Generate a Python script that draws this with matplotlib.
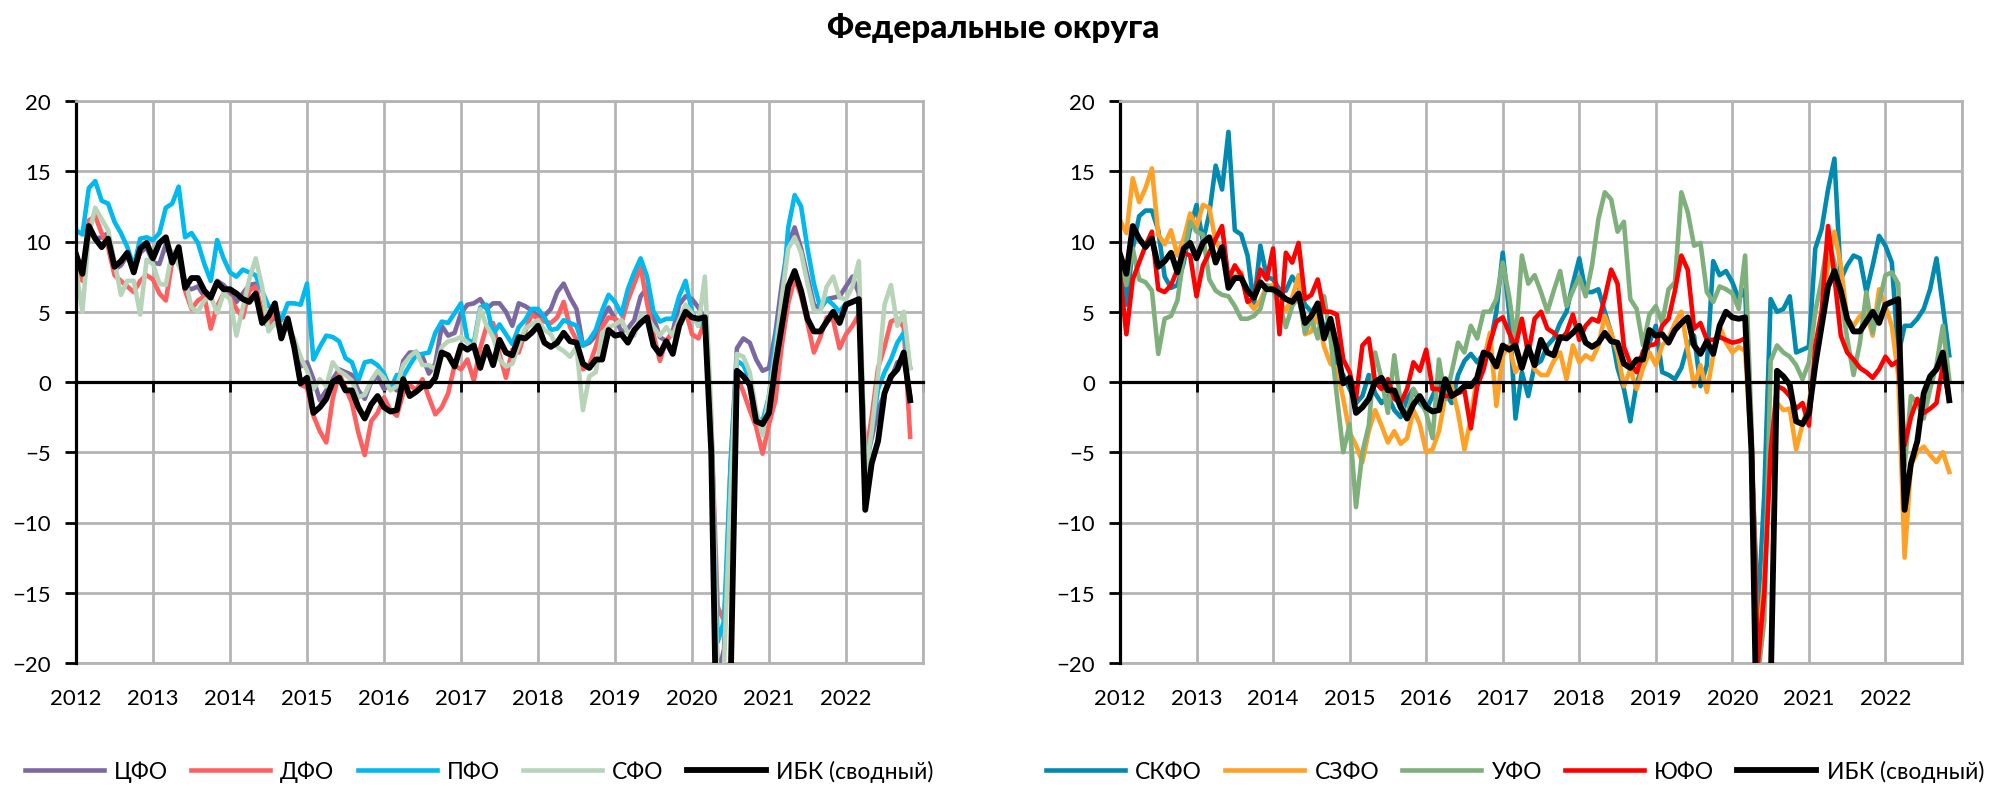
import matplotlib
matplotlib.use("Agg")
import matplotlib.pyplot as plt
import numpy as np

plt.rcParams["font.family"] = ["Lato", "DejaVu Sans"]

# monthly values, Jan 2012 .. Nov 2022
ibk = [
    9.1, 7.7, 11.1, 10.2, 9.6, 10.2, 8.2, 8.6, 9.2, 7.8, 9.5, 9.9,
    8.8, 9.9, 10.3, 8.5, 9.6, 6.7, 7.4, 7.4, 6.5, 6.0, 7.1, 6.6,
    6.6, 6.3, 5.9, 5.7, 6.3, 4.2, 4.7, 5.6, 3.1, 4.5, 2.5, -0.1,
    0.3, -2.2, -1.8, -1.2, 0.0, 0.3, -0.6, -0.6, -1.8, -2.6, -1.6, -1.0,
    -1.8, -2.1, -2.0, 0.2, -1.0, -0.7, -0.3, -0.3, 0.3, 2.1, 1.9, 1.1,
    2.6, 2.3, 2.6, 1.0, 2.5, 1.2, 3.0, 2.1, 1.9, 3.2, 3.1, 3.5,
    4.0, 2.8, 2.5, 2.8, 3.5, 2.9, 2.8, 1.3, 1.0, 1.6, 1.6, 3.7,
    3.3, 3.4, 2.8, 3.7, 4.2, 4.6, 2.6, 2.0, 2.9, 2.0, 4.0, 5.0,
    4.6, 4.5, 4.6, -5.0, -30.0, -30.0, -22.0, 0.8, 0.4, -0.2, -2.8, -3.0,
    -2.2, 1.2, 4.0, 6.8, 7.9, 6.5, 4.5, 3.6, 3.6, 4.3, 5.0, 4.2,
    5.5, 5.7, 5.9, -9.1, -5.8, -4.2, -0.8, 0.4, 0.9, 2.1, -1.3,
]

cfo = [
    9.0, 8.0, 10.8, 10.2, 10.3, 10.6, 8.0, 8.3, 9.0, 8.0, 9.2, 9.6,
    8.5, 8.4, 9.8, 8.6, 9.3, 6.8, 6.6, 6.8, 6.1, 6.2, 7.2, 6.9,
    6.4, 5.7, 6.3, 6.9, 7.0, 4.3, 4.0, 4.6, 3.5, 4.2, 2.5, 1.1,
    1.4, 0.2, -1.3, -0.6, 0.2, 0.9, 0.7, 0.5, -0.6, -1.2, 0.0, 0.4,
    -0.5, -0.2, -0.6, 1.5, 2.1, 2.1, 1.8, 0.6, 1.3, 4.0, 3.3, 3.5,
    4.9, 5.5, 5.6, 5.9, 5.2, 5.6, 5.6, 5.0, 4.0, 5.6, 5.4, 5.1,
    4.7, 4.7, 5.2, 6.4, 7.0, 6.0, 5.2, 2.6, 2.8, 3.3, 4.5, 5.3,
    4.5, 3.6, 3.8, 4.4, 6.1, 6.7, 4.6, 3.2, 2.9, 3.6, 5.5, 6.1,
    5.9, 5.3, 4.5, -4.0, -21.0, -19.0, -6.0, 2.4, 3.1, 2.8, 1.6, 0.8,
    1.0, 3.5, 7.0, 9.8, 11.0, 9.5, 7.5, 5.5, 5.2, 5.9, 6.0, 6.1,
    6.8, 7.5, 6.3, -6.0, -4.0, -2.0, -0.8, 0.2, 1.4, 1.6, -1.0,
]

dfo = [
    8.9, 7.2, 11.5, 11.8, 10.6, 9.6, 7.6, 7.2, 6.8, 6.4, 7.2, 7.6,
    7.3, 6.3, 5.8, 8.6, 9.2, 6.5, 5.2, 5.8, 6.1, 3.8, 5.4, 6.3,
    6.0, 5.2, 4.6, 6.5, 6.8, 5.0, 4.1, 5.1, 3.5, 4.6, 2.5, -0.2,
    -0.4, -2.4, -3.5, -4.3, -1.2, 0.6, -0.4, -1.5, -3.6, -5.2, -2.8, -2.2,
    -1.1, -2.0, -2.4, -0.8, -0.2, -0.6, 0.2, -1.1, -2.3, -1.8, -0.8, 1.2,
    0.9, 1.6, 0.1, 2.4, 4.0, 4.2, 2.0, 0.3, 2.3, 2.1, 3.6, 4.8,
    4.5, 4.3, 4.2, 4.6, 5.7, 3.9, 3.0, 0.9, 1.2, 2.5, 3.9, 4.6,
    4.5, 4.2, 5.8, 7.0, 8.2, 5.6, 3.4, 1.5, 3.0, 3.4, 4.4, 5.1,
    3.4, 3.1, 4.3, -3.0, -16.0, -17.0, -9.0, 0.4, -0.7, -2.0, -3.2, -5.1,
    -3.0, -1.3, 2.6, 5.6, 7.4, 6.1, 4.2, 2.1, 3.2, 4.6, 4.4, 2.4,
    3.4, 4.0, 4.8, -5.5, -2.5, 1.0, 2.5, 4.3, 4.5, 3.9, -3.9,
]

pfo = [
    10.8, 10.5, 13.8, 14.3, 12.9, 12.7, 11.4, 10.6, 9.6, 8.2, 10.2, 10.3,
    10.1, 10.6, 12.4, 12.7, 13.9, 10.3, 10.6, 9.9, 8.4, 7.2, 10.1, 8.8,
    7.8, 7.5, 8.0, 7.8, 7.6, 6.5, 5.4, 5.2, 4.4, 5.6, 5.6, 5.5,
    7.0, 1.6, 2.5, 3.3, 3.2, 2.9, 1.7, 1.4, 0.1, 1.4, 1.5, 1.2,
    0.6, -0.5, 0.5, 0.4, 1.2, 1.9, 2.0, 2.1, 3.5, 4.3, 4.2, 4.9,
    5.6, 3.0, 2.8, 5.3, 5.5, 3.4, 4.1, 3.4, 2.7, 3.9, 4.4, 5.2,
    5.2, 4.6, 3.7, 3.8, 4.4, 4.2, 4.0, 2.6, 3.0, 3.7, 5.1, 6.2,
    5.7, 4.8, 6.6, 7.8, 8.8, 7.5, 5.0, 4.3, 4.5, 4.5, 6.1, 7.2,
    5.0, 4.0, 4.5, -3.0, -18.5, -17.0, -6.0, 1.5, 1.2, 0.2, -2.5, -2.8,
    -1.0, 3.0, 5.5, 11.0, 13.3, 12.5, 9.5, 7.0, 5.3, 5.9, 5.5, 5.0,
    5.6, 5.7, 5.8, -6.5, -3.5, -0.5, 0.7, 1.6, 2.8, 3.5, 1.0,
]

sfo = [
    8.0, 5.0, 10.5, 12.4, 11.6, 10.8, 8.6, 6.2, 7.2, 7.2, 4.8, 8.7,
    8.4, 7.0, 6.9, 9.3, 8.3, 7.3, 5.3, 5.0, 5.8, 6.1, 4.9, 6.3,
    5.9, 3.3, 5.3, 7.3, 8.8, 6.8, 3.6, 4.2, 3.9, 3.9, 3.1, 1.8,
    0.8, -0.5, 0.2, -0.3, 1.4, 0.8, 0.5, 0.1, -1.1, -0.9, 0.1, 0.8,
    0.3, -0.6, -0.3, 1.2, 1.8, 2.2, 1.2, 1.2, 0.9, 2.5, 2.9, 3.0,
    3.2, 2.8, 2.5, 5.2, 4.0, 3.2, 1.6, 1.1, 1.3, 2.6, 3.8, 4.1,
    4.4, 3.7, 3.4, 2.5, 2.2, 1.8, 2.5, -2.0, 0.4, 0.7, 3.5, 3.9,
    4.1, 4.4, 3.5, 3.3, 4.7, 4.6, 3.9, 3.3, 3.9, 3.3, 4.4, 5.5,
    4.9, 4.0, 7.5, -2.0, -22.0, -20.0, -8.0, 2.0, 1.8, 0.7, -2.0, -3.8,
    -1.0, 2.0, 6.0, 9.5, 10.3, 9.2, 7.0, 5.1, 5.0, 6.8, 7.5, 6.0,
    5.9, 6.8, 8.6, -6.5, -3.5, 0.5, 5.5, 6.9, 4.0, 5.0, 1.0,
]

skfo = [
    8.5, 5.5, 9.5, 11.8, 12.2, 12.2, 10.8, 7.5, 6.7, 6.9, 8.5, 11.0,
    12.6, 10.0, 12.0, 15.4, 13.7, 17.8, 10.8, 10.5, 9.0, 5.5, 9.7, 7.5,
    7.3, 6.6, 6.5, 7.5, 6.8, 5.5, 5.0, 5.5, 3.8, 4.5, 1.0, 0.5,
    -0.5, -1.5, -1.0, 0.5, -0.8, -1.5, -1.0, -2.0, -2.5, -1.2, -0.5, -1.5,
    -2.0, -1.0, 0.0, -0.8, -1.5, 0.5, 1.5, 2.0, 1.4, 2.0, 2.6, 5.0,
    9.2, 5.0, -2.6, 0.7, -1.0, 1.2, 1.5, 2.6, 3.1, 4.2, 5.0, 7.0,
    8.8, 6.4, 6.4, 6.6, 5.0, 3.5, 1.0, -0.5, -2.8, -0.1, 1.2, 2.8,
    4.0, 0.7, 0.5, 0.2, 1.0, 2.6, 3.3, -0.3, 1.2, 8.6, 7.6, 7.9,
    7.1, 5.9, 6.6, -5.0, -16.5, -8.0, 5.9, 5.0, 5.2, 6.1, 2.1, 2.3,
    2.5, 9.5, 10.9, 13.7, 15.9, 7.3, 8.3, 9.0, 8.8, 6.4, 8.3, 10.4,
    9.7, 8.5, 1.9, 4.0, 4.0, 4.5, 5.2, 6.6, 8.8, 5.4, 1.9,
]

szfo = [
    11.5, 10.6, 14.5, 12.8, 13.8, 15.2, 10.5, 9.8, 10.8, 9.0, 10.2, 12.0,
    11.0, 12.6, 12.4, 10.0, 9.2, 7.5, 7.5, 7.8, 5.8, 5.2, 5.8, 6.8,
    6.9, 5.6, 5.1, 6.0, 7.6, 3.4, 3.6, 4.8, 2.5, 1.3, 1.0, -1.2,
    -3.6, -4.5, -5.7, -3.5, -2.0, -3.1, -4.3, -3.5, -4.4, -4.0, -2.0, -3.0,
    -5.0, -4.8, -3.5, -1.0, -0.3, -2.2, -4.8, -2.6, 0.5, 1.5, 3.5, -1.7,
    1.9, 2.6, 0.7, 1.4, 2.6, 0.9, 0.5, 0.5, 1.5, 2.1, 0.2, 2.6,
    1.4, 1.9, 1.6, 2.6, 4.7, 3.5, 2.1, -0.3, 0.9, -0.5, 1.0, 2.1,
    1.2, 2.6, 3.1, 4.2, 5.0, 2.3, -0.3, 1.2, -0.7, 1.9, 4.0, 2.8,
    2.1, 2.5, 2.2, -5.0, -19.0, -14.0, -4.0, -1.5, -2.0, -1.9, -4.8, -3.0,
    -1.5, 1.4, 5.0, 8.3, 10.7, 8.3, 4.5, 4.0, 4.7, 5.0, 3.3, 6.6,
    5.4, 4.0, 0.5, -12.5, -5.9, -5.0, -4.6, -5.2, -5.7, -5.0, -6.4,
]

ufo = [
    8.8, 6.9, 9.5, 7.3, 7.1, 6.5, 2.0, 4.5, 4.7, 5.8, 9.0, 11.4,
    10.7, 10.5, 7.3, 6.5, 6.2, 6.1, 5.4, 4.5, 4.5, 4.7, 5.2, 6.9,
    6.5, 5.5, 3.9, 5.4, 6.1, 3.5, 4.5, 3.1, 6.1, 3.1, -1.0, -5.0,
    -3.0, -8.9, -5.0, -3.1, 2.1, 0.2, -2.2, 1.9, -1.5, -2.5, -0.5, -1.2,
    -2.2, -4.0, 1.6, -1.2, 0.7, 2.8, 2.1, 4.0, 3.1, 5.0, 5.0, 5.9,
    8.5, 6.1, 2.8, 9.0, 7.0, 7.6, 6.4, 5.0, 6.5, 7.9, 5.4, 6.5,
    7.5, 6.1, 8.3, 11.6, 13.5, 13.0, 10.7, 11.4, 5.9, 5.2, 2.6, 4.8,
    5.4, 4.2, 6.6, 7.1, 13.5, 12.1, 9.7, 9.9, 6.4, 5.7, 6.8, 6.6,
    6.3, 5.2, 9.0, -3.0, -21.0, -17.0, 1.5, 2.6, 2.1, 1.8, 1.2, 0.2,
    1.4, 5.0, 7.3, 10.2, 8.5, 6.1, 3.1, 0.5, 2.8, 6.4, 3.5, 5.7,
    7.6, 7.8, 7.0, -6.0, -1.0, -1.5, -2.6, -0.5, 1.2, 4.0, 0.2,
]

yufo = [
    7.6, 3.4, 7.3, 8.5, 9.7, 10.7, 6.6, 6.4, 6.9, 8.0, 9.2, 9.0,
    6.1, 8.3, 9.2, 10.2, 11.1, 7.3, 8.3, 7.6, 5.7, 6.0, 8.0, 7.3,
    9.5, 3.4, 9.2, 8.5, 9.9, 5.9, 6.2, 7.3, 5.0, 5.0, 4.8, 1.6,
    0.7, -1.2, 2.6, 3.1, 0.0, -0.5, 0.2, -1.2, -1.5, -0.5, 1.4, 0.8,
    2.3, -0.5, -0.5, -1.0, -1.0, -0.8, -0.6, -3.3, -0.3, 0.9, 2.8, 4.3,
    4.6, 3.5, 2.5, 4.5, 2.0, 4.5, 5.0, 3.8, 3.5, 3.0, 3.5, 4.8,
    3.0, 4.0, 4.5, 4.3, 6.0, 8.0, 7.0, 2.5, 1.3, 0.7, 2.2, 2.6,
    2.7, 4.0, 4.5, 6.5, 9.0, 8.0, 3.8, 4.2, 3.0, 3.0, 3.2, 3.0,
    2.8, 2.9, 3.1, -4.0, -20.0, -15.0, -5.0, -0.3, -0.5, -1.0, -1.9, -1.5,
    -3.1, 2.6, 5.0, 11.1, 7.5, 3.3, 2.1, 1.6, 1.0, 0.7, 0.3, 0.9,
    1.8, 1.2, 1.5, -4.5, -2.5, -1.2, -2.2, -1.9, -1.5, 1.2, -1.3,
]

year_labels = ["2012", "2013", "2014", "2015", "2016", "2017",
               "2018", "2019", "2020", "2021", "2022", ""]

left_series = [
    ("ЦФО", cfo, "#7b68a0"),
    ("ДФО", dfo, "#ff5f5f"),
    ("ПФО", pfo, "#00b9ef"),
    ("СФО", sfo, "#b8d4b8"),
]
right_series = [
    ("СКФО", skfo, "#008ab0"),
    ("СЗФО", szfo, "#ffa126"),
    ("УФО", ufo, "#7faf7a"),
    ("ЮФО", yufo, "#ff0000"),
]

GRID = "#b4b4b4"
W, H = 2006, 803
year_ticks = np.arange(0, 133, 12)


def style_axis(ax):
    ax.set_xlim(0, 132)
    ax.set_ylim(-20, 20)
    ax.set_xticks(year_ticks)
    ax.set_yticks(np.arange(-20, 21, 5))
    ax.grid(True, color=GRID, linewidth=2.0)
    ax.set_axisbelow(True)
    for side in ["top", "right"]:
        ax.spines[side].set_color(GRID)
        ax.spines[side].set_linewidth(2.0)
    ax.spines["left"].set_color("black")
    ax.spines["left"].set_linewidth(2.3)
    # horizontal axis drawn through zero, ticks pointing down
    ax.spines["bottom"].set_position(("data", 0))
    ax.spines["bottom"].set_color("black")
    ax.spines["bottom"].set_linewidth(2.3)
    ax.tick_params(axis="x", length=7, width=2, color="black", labelbottom=False)
    ax.tick_params(axis="y", length=8, width=2, color="black", pad=10, labelsize=16)

    # year labels under the plot area
    years = ax.secondary_xaxis("bottom")
    years.set_xticks(year_ticks)
    years.set_xticklabels(year_labels)
    years.tick_params(length=0, pad=18, labelsize=16)
    years.spines["bottom"].set_color(GRID)
    years.spines["bottom"].set_linewidth(2.0)


def draw_panel(ax, series):
    months = np.arange(len(ibk))
    handles = []
    for name, vals, col in series:
        h, = ax.plot(months, vals, color=col, linewidth=3.3, label=name)
        handles.append(h)
    h, = ax.plot(months, ibk, color="black", linewidth=4.2, label="ИБК (сводный)")
    handles.append(h)
    style_axis(ax)
    return handles


fig = plt.figure(figsize=(W / 100, H / 100), dpi=100)
ax1 = fig.add_axes([76 / W, 1 - 664 / H, (923 - 76) / W, (664 - 102) / H])
ax2 = fig.add_axes([1120 / W, 1 - 664 / H, (1962 - 1120) / W, (664 - 102) / H])

h1 = draw_panel(ax1, left_series)
h2 = draw_panel(ax2, right_series)

leg_kw = dict(loc="center", ncol=5, frameon=False, fontsize=16.5,
              handlelength=3.45, handletextpad=0.45, columnspacing=1.0)
fig.legend(handles=h1, bbox_to_anchor=(479 / W, 1 - 772 / H), **leg_kw)
fig.legend(handles=h2, bbox_to_anchor=(1515 / W, 1 - 772 / H), **leg_kw)

fig.text(0.495, 1 - 28 / H, "Федеральные округа", ha="center", va="center",
         fontsize=24, fontweight="black")

fig.savefig("out.png", dpi=100)
